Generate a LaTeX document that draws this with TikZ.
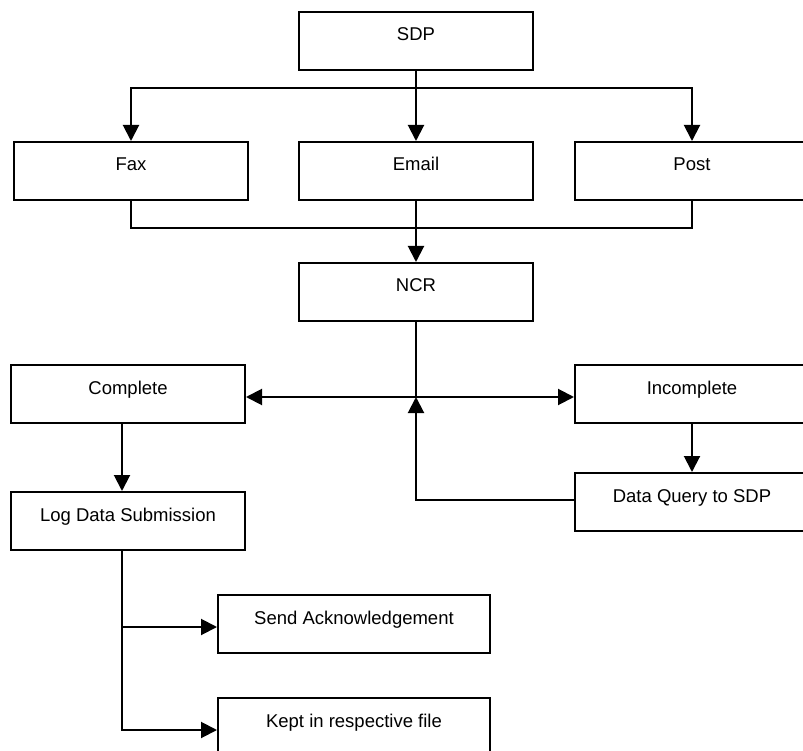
\documentclass[tikz,border=0pt]{standalone}
\usepackage{fontspec}
\setmainfont{Liberation Sans}
\usetikzlibrary{arrows.meta}

\begin{document}
\begin{tikzpicture}[x=1pt, y=-1pt,
    box/.style={draw, line width=2pt, minimum width=234pt, minimum height=58pt,
      text height=11pt, text depth=11pt, font=\fontsize{18.5}{22}\selectfont},
    arr/.style={-{Triangle[length=16pt,width=16pt]}},
    every path/.style={line width=2pt}]
      \useasboundingbox (0,0) rectangle (803,751);

      % Draw the boxes
      \node[box] (sdp) at (416,41) {SDP};
      \foreach \n/\x/\t in {fax/131/Fax, email/416/Email, post/692/Post}
        \node[box] (\n) at (\x,171) {\t};
      \node[box] (ncr) at (416,292) {NCR};
      \node[box] (complete) at (128,394) {Complete};
      \node[box] (incomplete) at (692,394) {Incomplete};
      \node[box] (query) at (692,502) {Data Query to SDP};
      \node[box] (log) at (128,521) {Log Data Submission};
      \node[box, minimum width=272pt] (send) at (354,624) {Send Acknowledgement};
      \node[box, minimum width=272pt] (kept) at (354,727) {Kept in respective file};

      % Split from SDP
      \coordinate (split) at (416,88);
      \draw[arr] (sdp) -- (email);
      \draw[arr] (split) -| (fax);
      \draw[arr] (split) -| (post);

      % Join into NCR
      \coordinate (join) at (416,228);
      \draw (fax) |- (join) -| (post);
      \draw[arr] (email) -- (ncr);

      % Check of the submission
      \coordinate (mid) at (416,397);
      \coordinate (back) at (416,500);
      \draw (ncr) -- (mid);
      \draw[arr] (mid) -- (mid -| complete.east);
      \draw[arr] (mid) -- (mid -| incomplete.west);
      \draw[arr] (incomplete) -- (query);
      \draw[arr] (back -| query.west) -- (back) -- (mid);

      % After logging
      \draw[arr] ([xshift=-6pt]complete.south) -- ([xshift=-6pt]log.north);
      \draw[arr] ([xshift=-6pt]log.south) |- ([yshift=-3pt]send.west);
      \draw[arr] ([xshift=-6pt]log.south) |- ([yshift=-3pt]kept.west);
    \end{tikzpicture}
\end{document}
